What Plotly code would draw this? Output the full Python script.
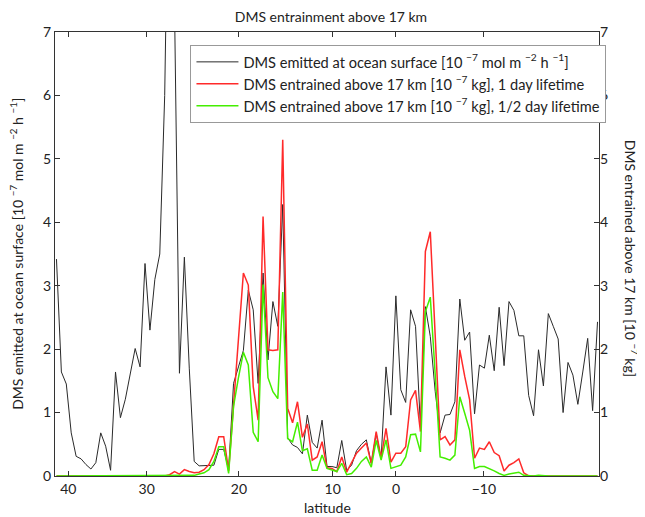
import plotly.graph_objects as go

# sample index along the track (x positions), latitude tick labels at their track positions
tick_pos = [2.4, 18.34, 37.1, 56.15, 69.02, 86.9]
tick_labels = ["40", "30", "20", "10", "0", "\u221210"]

dms_emitted = [
    3.42, 1.64, 1.45, 0.68, 0.31, 0.27, 0.18, 0.11, 0.21, 0.68,
    0.47, 0.09, 1.64, 0.92, 1.21, 1.64, 2.01, 1.72, 3.35, 2.30,
    3.10, 3.50, 6.0, 11.0, 7.4, 1.62, 3.45, 1.7, 0.23, 0.16,
    0.16, 0.16, 0.17, 0.42, 0.42, 0.1, 1.46, 1.72, 1.98, 2.93,
    2.62, 1.46, 3.2, 1.83, 2.75, 2.36, 4.28, 0.6, 0.49, 0.45,
    0.35, 0.96, 0.53, 0.44, 0.88, 0.15, 0.15, 0.13, 0.56, 0.09,
    0.17, 0.4, 0.5, 0.57, 0.2, 0.67, 0.27, 1.72, 0.96, 2.84,
    1.36, 1.16, 2.62, 2.36, 0.78, 2.67, 2.2, 1.33, 0.68, 0.96,
    0.97, 1.17, 2.79, 2.14, 2.27, 0.98, 1.75, 1.7, 2.22, 1.66,
    2.66, 1.74, 2.75, 2.61, 2.21, 2.21, 1.27, 0.95, 1.99, 1.42,
    2.56, 2.36, 2.16, 1.0, 1.79, 1.59, 1.13, 1.64, 2.17, 1.03,
    2.43,
]

entrained_1day = [0.0] * 23 + [
    0.02, 0.07, 0.03, 0.1, 0.07, 0.05, 0.06,
    0.1, 0.18, 0.35, 0.62, 0.62, 0.08, 1.15, 2.2, 3.2, 3.01,
    1.41, 0.88, 4.09, 1.99, 1.98, 1.99, 5.3, 1.07, 0.84, 1.17,
    0.61, 0.82, 0.25, 0.3, 0.54, 0.13, 0.12, 0.07, 0.3, 0.06,
    0.2, 0.36, 0.44, 0.52, 0.2, 0.7, 0.28, 0.75, 0.22, 0.36,
    0.36, 0.46, 1.2, 1.35, 0.7, 3.54, 3.85, 2.2, 0.57, 0.62,
    0.49, 0.57, 1.99, 1.57, 1.2, 0.28, 0.44, 0.42, 0.54, 0.37,
    0.32, 0.08, 0.17, 0.21, 0.27, 0.05,
] + [0.0] * 15

entrained_halfday = [0.0] * 28 + [
    0.01, 0.03,
    0.05, 0.1, 0.23, 0.46, 0.46, 0.04, 1.1, 1.55, 1.95, 1.75,
    0.69, 0.54, 3.02, 1.55, 1.33, 1.22, 2.9, 0.59, 0.54, 0.85,
    0.4, 0.43, 0.09, 0.09, 0.33, 0.12, 0.09, 0.07, 0.2, 0.02,
    0.04, 0.12, 0.23, 0.3, 0.14, 0.56, 0.25, 0.57, 0.12, 0.15,
    0.17, 0.3, 0.65, 0.66, 0.38, 2.59, 2.82, 1.6, 0.3, 0.28,
    0.25, 0.33, 1.25, 0.99, 0.72, 0.12, 0.15, 0.15, 0.12, 0.08,
    0.04, 0.01, 0.03, 0.04, 0.06, 0.01, 0.0, 0.0, 0.01,
] + [0.0] * 12

x = list(range(len(dms_emitted)))
FONT = "Lato"
M = "\u2212"

fig = go.Figure()
fig.add_trace(go.Scatter(
    x=x, y=dms_emitted, mode="lines",
    line=dict(color="#2a2a2a", width=1),
    name=f"DMS emitted at ocean surface [10 <sup>{M}7</sup> mol m <sup>{M}2</sup> h <sup>{M}1</sup>]",
))
fig.add_trace(go.Scatter(
    x=x, y=entrained_1day, mode="lines", yaxis="y2",
    line=dict(color="#ff2a2a", width=1.5),
    name=f"DMS entrained above 17 km [10 <sup>{M}7</sup> kg], 1 day lifetime",
))
fig.add_trace(go.Scatter(
    x=x, y=entrained_halfday, mode="lines", yaxis="y2",
    line=dict(color="#44ee00", width=1.5),
    name=f"DMS entrained above 17 km [10 <sup>{M}7</sup> kg], 1/2 day lifetime",
))

axis_common = dict(
    showline=True, linecolor="#333333", linewidth=1,
    ticks="inside", ticklen=5, tickcolor="#333333",
    showgrid=False, zeroline=False,
    tickfont=dict(family=FONT, size=14, color="#222222"),
)

# the page body adds an 8px offset at top-left, so the figure is 8px smaller
fig.update_layout(
    width=637, height=509,
    margin=dict(l=47, r=46, t=24, b=41),
    paper_bgcolor="white", plot_bgcolor="white",
    font=dict(family=FONT, size=13, color="#222222"),
    title=dict(text="DMS entrainment above 17 km", x=0.507, xanchor="center",
               y=0.982, yanchor="middle", font=dict(family=FONT, size=14)),
    xaxis=dict(range=[-0.3, 110.3], tickvals=tick_pos, ticktext=tick_labels,
               mirror="ticks", **axis_common),
    yaxis=dict(range=[0, 7], tickvals=list(range(8)), mirror="ticks", **axis_common),
    yaxis2=dict(range=[0, 7], tickvals=list(range(8)), overlaying="y", side="right",
                showline=False, ticks="", showgrid=False, zeroline=False,
                tickfont=dict(family=FONT, size=14, color="#222222")),
    legend=dict(x=0.249, y=0.971, xanchor="left", yanchor="top",
                bordercolor="#999999", borderwidth=1, bgcolor="white",
                font=dict(family=FONT, size=14.6), tracegroupgap=0, itemwidth=42),
    showlegend=True,
    annotations=[
        dict(text="latitude", xref="paper", yref="paper", x=0.5, y=-0.072,
             yanchor="middle", showarrow=False, font=dict(family=FONT, size=14)),
        dict(text=f"DMS emitted at ocean surface [10 <sup>{M}7</sup> mol m <sup>{M}2</sup> h <sup>{M}1</sup>]",
             xref="paper", yref="paper", x=-0.072, y=0.5, textangle=-90,
             xanchor="center", yanchor="middle", showarrow=False,
             font=dict(family=FONT, size=14)),
        dict(text=f"DMS entrained above 17 km [10 <sup>{M}7</sup> kg]",
             xref="paper", yref="paper", x=1.06, y=0.49, textangle=90,
             xanchor="center", yanchor="middle", showarrow=False,
             font=dict(family=FONT, size=14)),
    ],
)

fig.write_html("out.html")
